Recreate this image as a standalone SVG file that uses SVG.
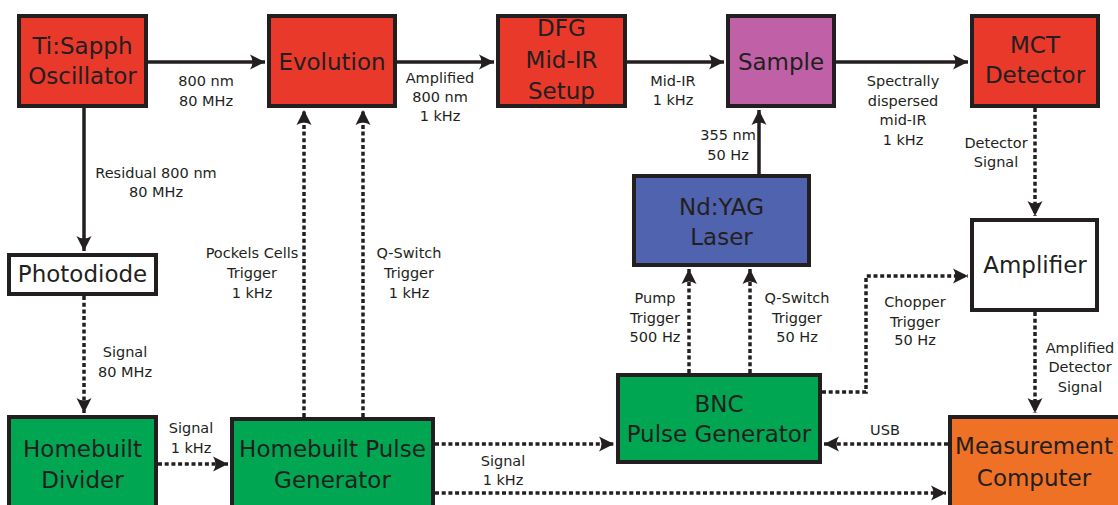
<svg xmlns="http://www.w3.org/2000/svg" width="1118" height="505" viewBox="0 0 1118 505">
<defs>
<marker id="ah" markerUnits="userSpaceOnUse" markerWidth="18" markerHeight="18" viewBox="-16 -9 18 18" refX="0" refY="0" orient="auto">
<path d="M0,0 L-15,-7.5 Q-10,0 -15,7.5 Z" fill="#231F20"/>
</marker>
</defs>
<style>
.box{stroke:#231F20;stroke-width:4}
.red{fill:#E8392B}
.pur{fill:#C061A7}
.blu{fill:#5063AE}
.grn{fill:#00A651}
.org{fill:#EF7126}
.wht{fill:#FFFFFF}
.bt{font-family:"DejaVu Sans",sans-serif;font-size:23px;fill:#231F20;text-anchor:middle}
.lb{font-family:"DejaVu Sans",sans-serif;font-size:14.5px;fill:#231F20;text-anchor:middle}
.sol{fill:none;stroke:#231F20;stroke-width:3.5;marker-end:url(#ah)}
.dot{fill:none;stroke:#231F20;stroke-width:3.5;stroke-dasharray:4 2.7;marker-end:url(#ah)}
</style>
<g id="connectors">
<path class="sol" d="M148,62 H265"/>
<path class="sol" d="M397,62 H494"/>
<path class="sol" d="M627,62 H724"/>
<path class="sol" d="M836,62 H968"/>
<path class="sol" d="M84,108 V251"/>
<path class="dot" d="M84,296 V413"/>
<path class="dot" d="M158,464 H228"/>
<path class="dot" d="M304,417 V110"/>
<path class="dot" d="M363,417 V110"/>
<path class="dot" d="M435,444 H614"/>
<path class="dot" d="M435,493 H946"/>
<path class="sol" d="M759,174 V110"/>
<path class="dot" d="M689,373 V269"/>
<path class="dot" d="M750,373 V269"/>
<path class="dot" d="M822,392 H866 V276 H968"/>
<path class="dot" d="M1035,108 V216"/>
<path class="dot" d="M1035,312 V413"/>
<path class="dot" d="M948,444 H824"/>
</g>
<g id="labels">
<text class="lb" x="206" y="86">800 nm</text>
<text class="lb" x="206" y="106">80 MHz</text>
<text class="lb" x="440" y="83">Amplified</text>
<text class="lb" x="440" y="102">800 nm</text>
<text class="lb" x="440" y="121">1 kHz</text>
<text class="lb" x="673" y="86">Mid-IR</text>
<text class="lb" x="673" y="105">1 kHz</text>
<text class="lb" x="903" y="86">Spectrally</text>
<text class="lb" x="903" y="105.5">dispersed</text>
<text class="lb" x="903" y="125">mid-IR</text>
<text class="lb" x="903" y="144.5">1 kHz</text>
<text class="lb" x="728" y="140">355 nm</text>
<text class="lb" x="728" y="160">50 Hz</text>
<text class="lb" x="996" y="148">Detector</text>
<text class="lb" x="996" y="167">Signal</text>
<text class="lb" x="156" y="178">Residual 800 nm</text>
<text class="lb" x="156" y="197">80 MHz</text>
<text class="lb" x="252" y="258">Pockels Cells</text>
<text class="lb" x="252" y="278">Trigger</text>
<text class="lb" x="252" y="298">1 kHz</text>
<text class="lb" x="409" y="258">Q-Switch</text>
<text class="lb" x="409" y="278">Trigger</text>
<text class="lb" x="409" y="298">1 kHz</text>
<text class="lb" x="125" y="357">Signal</text>
<text class="lb" x="125" y="377">80 MHz</text>
<text class="lb" x="655" y="303">Pump</text>
<text class="lb" x="655" y="323">Trigger</text>
<text class="lb" x="655" y="342">500 Hz</text>
<text class="lb" x="797" y="303">Q-Switch</text>
<text class="lb" x="797" y="323">Trigger</text>
<text class="lb" x="797" y="342">50 Hz</text>
<text class="lb" x="915" y="307">Chopper</text>
<text class="lb" x="915" y="327">Trigger</text>
<text class="lb" x="915" y="345">50 Hz</text>
<text class="lb" x="1080" y="353">Amplified</text>
<text class="lb" x="1080" y="372">Detector</text>
<text class="lb" x="1080" y="392">Signal</text>
<text class="lb" x="191" y="433">Signal</text>
<text class="lb" x="191" y="453">1 kHz</text>
<text class="lb" x="503" y="466">Signal</text>
<text class="lb" x="503" y="485">1 kHz</text>
<text class="lb" x="885" y="435">USB</text>
</g>
<g id="tisapph"><rect class="box red" x="19" y="16" width="127" height="90"/><text class="bt" x="82.5" y="54">Ti:Sapph</text><text class="bt" x="82.5" y="84">Oscillator</text></g>
<g id="evolution"><rect class="box red" x="269" y="16" width="126" height="90"/><text class="bt" x="332" y="70">Evolution</text></g>
<g id="dfg"><rect class="box red" x="498" y="16" width="127" height="90"/><text class="bt" x="561.5" y="36">DFG</text><text class="bt" x="561.5" y="68">Mid-IR</text><text class="bt" x="561.5" y="99">Setup</text></g>
<g id="sample"><rect class="box pur" x="728" y="16" width="106" height="90"/><text class="bt" x="781" y="70">Sample</text></g>
<g id="mct"><rect class="box red" x="972" y="16" width="126" height="90"/><text class="bt" x="1035" y="53">MCT</text><text class="bt" x="1035" y="83">Detector</text></g>
<g id="photodiode"><rect class="box wht" x="9" y="255" width="147" height="39"/><text class="bt" x="82.5" y="282">Photodiode</text></g>
<g id="ndyag"><rect class="box blu" x="634" y="176" width="175" height="89"/><text class="bt" x="721.5" y="215">Nd:YAG</text><text class="bt" x="721.5" y="245">Laser</text></g>
<g id="amplifier"><rect class="box wht" x="972" y="220" width="125" height="90"/><text class="bt" x="1035" y="273">Amplifier</text></g>
<g id="divider"><rect class="box grn" x="9" y="417" width="147" height="100"/><text class="bt" x="82.5" y="457">Homebuilt</text><text class="bt" x="82.5" y="488">Divider</text></g>
<g id="pulsegen"><rect class="box grn" x="232" y="419" width="201" height="100"/><text class="bt" x="332.5" y="457">Homebuilt Pulse</text><text class="bt" x="332.5" y="488">Generator</text></g>
<g id="bnc"><rect class="box grn" x="618" y="375" width="202" height="87"/><text class="bt" x="719" y="412">BNC</text><text class="bt" x="719" y="442">Pulse Generator</text></g>
<g id="computer"><rect class="box org" x="950" y="417" width="180" height="100"/><text class="bt" x="1034" y="454">Measurement</text><text class="bt" x="1034" y="486">Computer</text></g>
</svg>
